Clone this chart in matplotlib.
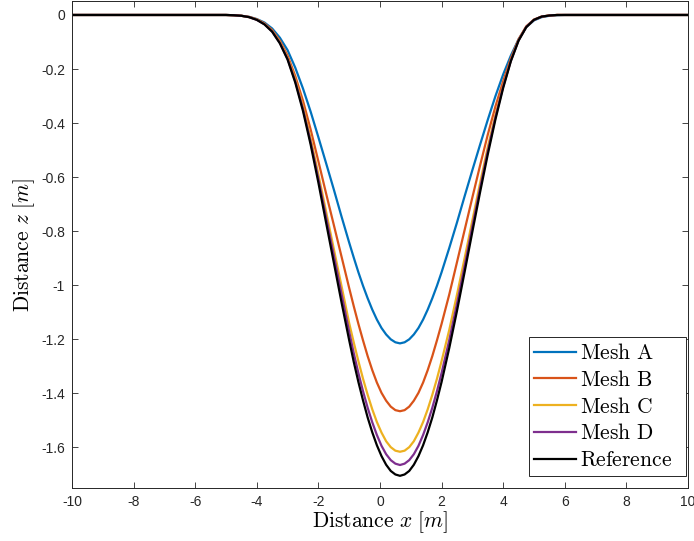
import numpy as np
import matplotlib.pyplot as plt

plt.rcParams['font.family'] = ['Liberation Sans', 'DejaVu Sans']
plt.rcParams['mathtext.fontset'] = 'cm'
plt.rcParams['axes.unicode_minus'] = False

# horizontal positions of the sampled profile points (denser around the trough)
x = [-10.0, -5.0, -4.75, -4.5, -4.25, -4.0, -3.75, -3.5, -3.25, -3.0, -2.75, -2.5,
     -2.25, -2.0, -1.75, -1.5, -1.25, -1.0,
     -0.85, -0.7, -0.55, -0.4, -0.25, -0.1, 0.05, 0.2, 0.35, 0.5, 0.65, 0.8, 0.95,
     1.1, 1.25, 1.4, 1.55, 1.7, 1.85, 2.0,
     2.25, 2.5, 2.75, 3.0, 3.25, 3.5, 3.75, 4.0, 4.25, 4.5, 4.75, 5.0, 5.25, 5.5,
     5.75, 6.0, 10.0]

# surface depth z for each mesh and the reference solution
z_mesh_a = [0.0, 0.0, -0.001, -0.003, -0.007, -0.015, -0.028, -0.050, -0.084, -0.130,
            -0.195, -0.272, -0.358, -0.452, -0.548, -0.645, -0.745, -0.842,
            -0.898, -0.952, -1.002, -1.048, -1.090, -1.127, -1.158, -1.182, -1.200,
            -1.211, -1.215, -1.211, -1.200, -1.182, -1.158, -1.127, -1.090, -1.048,
            -1.002, -0.952,
            -0.862, -0.768, -0.670, -0.574, -0.480, -0.388, -0.300, -0.220, -0.150,
            -0.090, -0.045, -0.020, -0.008, -0.003, -0.001, 0.0, 0.0]
z_mesh_b = [0.0, 0.0, -0.001, -0.003, -0.007, -0.016, -0.031, -0.056, -0.095, -0.150,
            -0.226, -0.317, -0.424, -0.541, -0.660, -0.776, -0.893, -1.010,
            -1.078, -1.143, -1.204, -1.262, -1.314, -1.360, -1.398, -1.427, -1.449,
            -1.462, -1.466, -1.462, -1.449, -1.427, -1.398, -1.360, -1.314, -1.262,
            -1.204, -1.143,
            -1.034, -0.915, -0.795, -0.675, -0.557, -0.443, -0.338, -0.245, -0.160,
            -0.090, -0.042, -0.017, -0.006, -0.002, 0.0, 0.0, 0.0]
z_mesh_c = [0.0, 0.0, -0.001, -0.003, -0.008, -0.017, -0.033, -0.059, -0.100, -0.158,
            -0.238, -0.338, -0.457, -0.590, -0.727, -0.865, -1.002, -1.140,
            -1.212, -1.281, -1.346, -1.405, -1.459, -1.506, -1.545, -1.577, -1.599,
            -1.612, -1.616, -1.612, -1.599, -1.577, -1.545, -1.506, -1.459, -1.405,
            -1.346, -1.281,
            -1.165, -1.035, -0.899, -0.760, -0.622, -0.489, -0.370, -0.262, -0.167,
            -0.093, -0.044, -0.018, -0.006, -0.002, 0.0, 0.0, 0.0]
z_mesh_d = [0.0, 0.0, -0.001, -0.003, -0.008, -0.018, -0.034, -0.061, -0.103, -0.162,
            -0.245, -0.347, -0.470, -0.606, -0.748, -0.889, -1.031, -1.172,
            -1.252, -1.325, -1.392, -1.453, -1.507, -1.554, -1.594, -1.625, -1.647,
            -1.660, -1.665, -1.660, -1.647, -1.625, -1.594, -1.554, -1.507, -1.453,
            -1.392, -1.325,
            -1.203, -1.069, -0.928, -0.783, -0.641, -0.504, -0.378, -0.265, -0.169,
            -0.094, -0.044, -0.018, -0.006, -0.002, 0.0, 0.0, 0.0]
z_ref = [0.0, 0.0, -0.001, -0.003, -0.008, -0.018, -0.035, -0.062, -0.105, -0.165,
         -0.250, -0.355, -0.480, -0.620, -0.768, -0.915, -1.062, -1.203,
         -1.284, -1.358, -1.426, -1.489, -1.544, -1.592, -1.632, -1.664, -1.687,
         -1.700, -1.705, -1.700, -1.687, -1.664, -1.632, -1.592, -1.544, -1.489,
         -1.426, -1.358,
         -1.232, -1.095, -0.950, -0.802, -0.656, -0.516, -0.386, -0.270, -0.171,
         -0.095, -0.045, -0.018, -0.006, -0.002, 0.0, 0.0, 0.0]

labels = ['Mesh A', 'Mesh B', 'Mesh C', 'Mesh D', 'Reference']
colors = ['#0072BD', '#D95319', '#EDB120', '#7E2F8E', 'black']

fig = plt.figure(figsize=(6.94, 5.41), dpi=100)
ax = fig.add_axes([0.1037, 0.098, 0.8876, 0.8993])

for z, lab, c in zip([z_mesh_a, z_mesh_b, z_mesh_c, z_mesh_d, z_ref], labels, colors):
    ax.plot(x, z, color=c, linewidth=1.6, label=lab)

ax.set_xlim(-10, 10)
ax.set_ylim(-1.75, 0.05)
xt = np.arange(-10, 11, 2)
ax.set_xticks(xt)
ax.set_xticklabels([str(v) for v in xt])
yt = [0, -0.2, -0.4, -0.6, -0.8, -1, -1.2, -1.4, -1.6]
ax.set_yticks(yt)
ax.set_yticklabels(['0', '-0.2', '-0.4', '-0.6', '-0.8', '-1', '-1.2', '-1.4', '-1.6'])

axcol = '#262626'
ax.tick_params(direction='in', length=4.5, width=0.6, top=True, right=True,
               labelsize=10, colors=axcol, labelcolor=axcol, pad=5)
for s in ax.spines.values():
    s.set_color(axcol)
    s.set_linewidth(0.7)

ax.set_xlabel(r'$\mathrm{Distance}\ x\ [m]$', fontsize=15.5, labelpad=0)
ax.set_ylabel(r'$\mathrm{Distance}\ z\ [m]$', fontsize=15.5, labelpad=3)

# legend box in the lower right corner; 'expand' stretches it to the given width
leg = ax.legend(loc='lower right', bbox_to_anchor=(0.742, 0.025, 0.255, 0.4),
                mode='expand', borderaxespad=0,
                prop={'family': 'serif', 'size': 15.5},
                handlelength=1.95, handletextpad=0.22, labelspacing=0.22,
                borderpad=0.22, fancybox=False, framealpha=1)
for t in leg.get_texts():
    t.set_text(r'$\mathrm{' + t.get_text().replace(' ', r'\ ') + '}$')
leg.get_frame().set_edgecolor(axcol)
leg.get_frame().set_linewidth(0.7)

fig.savefig('out.png', dpi=100)
